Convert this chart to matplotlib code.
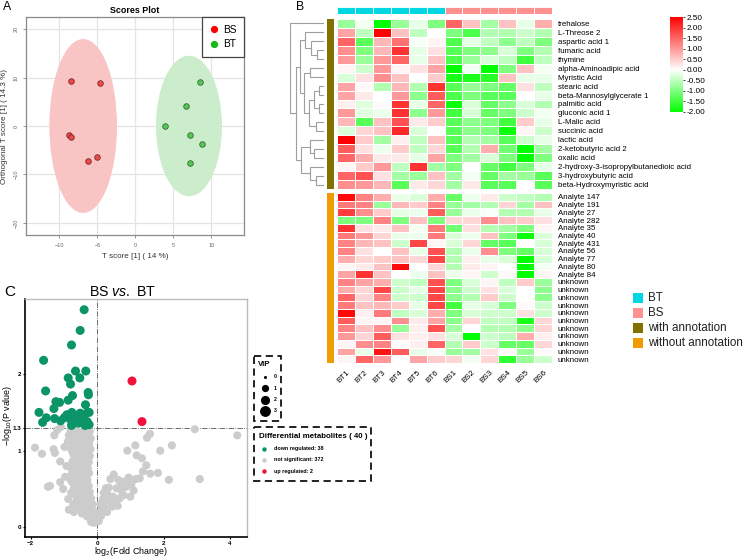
import numpy as np
import matplotlib
matplotlib.use('Agg')
import matplotlib.pyplot as plt
from matplotlib.patches import Ellipse, Rectangle
from matplotlib.colors import LinearSegmentedColormap, Normalize
from matplotlib.cm import ScalarMappable
from matplotlib.lines import Line2D
from matplotlib.ticker import FormatStrFormatter

plt.rcParams['font.family'] = ['Liberation Sans', 'DejaVu Sans']
plt.rcParams['mathtext.fontset'] = 'custom'
plt.rcParams['mathtext.rm'] = 'Liberation Sans'
plt.rcParams['mathtext.it'] = 'Liberation Sans:italic'
plt.rcParams['mathtext.bf'] = 'Liberation Sans:bold'

# ---------------- Panel A data ----------------
bs_x = [-8.46, -4.65, -8.68, -8.46, -5.09, -6.22]
bs_y = [9.25, 8.8, -1.93, -2.2, -6.4, -7.3]
bt_x = [3.86, 6.67, 7.15, 7.15, 8.55, 8.82]
bt_y = [-0.07, 4.14, -1.8, -7.66, 9.1, -3.66]
ell_center = {'BS': (-6.87, 0.0), 'BT': (7.06, 0.0)}
ell_size = {'BS': (8.9, 35.9), 'BT': (8.68, 29.0)}

# ---------------- Panel B data ----------------
samples = ['BT1', 'BT2', 'BT3', 'BT4', 'BT5', 'BT6', 'BS1', 'BS2', 'BS3', 'BS4', 'BS5', 'BS6']
groups = ['BT'] * 6 + ['BS'] * 6
annot_names = ['trehalose', 'L-Threose 2', 'aspartic acid 1', 'fumaric acid', 'thymine',
               'alpha-Aminoadipic acid', 'Myristic Acid', 'stearic acid',
               'beta-Mannosylglycerate 1', 'palmitic acid', 'gluconic acid 1', 'L-Malic acid',
               'succinic acid', 'lactic acid', '2-ketobutyric acid 2', 'oxalic acid',
               '2-hydroxy-3-isopropylbutanedioic acid', '3-hydroxybutyric acid',
               'beta-Hydroxymyristic acid']
unannot_names = ['Analyte 147', 'Analyte 191', 'Analyte 27', 'Analyte 282', 'Analyte 35',
                 'Analyte 40', 'Analyte 431', 'Analyte 56', 'Analyte 77', 'Analyte 80',
                 'Analyte 84'] + ['unknown'] * 11
annot_vals = [
    [-0.8, -0.1, -2.0, -0.8, -0.2, -1.0, 1.5, 0.6, -0.7, 0.6, -0.2, 0.8],
    [0.9, -0.5, 2.5, 0.6, -0.5, 0.0, -1.0, -1.4, -0.6, -0.6, -0.4, -0.6],
    [1.5, -1.3, 0.7, 1.4, -0.05, 0.1, -1.4, -0.2, -0.5, -0.9, -0.5, -1.0],
    [1.1, -1.0, 0.7, 2.0, -0.2, 0.3, -1.3, -1.0, -0.9, -0.3, -1.0, -0.6],
    [1.0, -0.8, 1.0, 1.5, -0.2, 0.6, -1.4, -0.8, -0.3, -0.5, -1.5, -0.5],
    [0.1, -0.4, 1.0, 0.1, 0.3, 0.9, -2.0, -0.1, -2.0, -1.0, 0.6, -0.1],
    [-0.3, 0.3, 1.1, 0.6, 0.0, 0.5, -1.8, -1.8, -1.7, 0.6, -0.2, -0.2],
    [0.9, 0.05, -0.6, 0.7, -0.6, 2.0, -1.3, -0.8, -1.0, -1.2, 0.3, -0.5],
    [0.9, 0.2, 0.0, 1.0, -0.9, 1.6, -1.4, -1.0, -1.3, -1.3, 0.0, -0.2],
    [0.15, -0.25, 0.05, 2.0, -0.2, 1.5, -1.9, -0.3, -1.2, -0.9, -0.3, -0.6],
    [1.0, -0.25, -0.15, 2.0, -0.9, 1.0, -1.5, -0.3, -1.2, -1.0, -0.4, -0.1],
    [0.7, -1.3, 0.6, 1.7, 0.2, 0.5, -1.3, -0.9, -1.0, -1.5, 0.5, -0.2],
    [-0.3, 0.4, 0.6, 2.1, -0.3, 0.0, -1.3, -0.9, -1.0, -1.9, 0.1, -0.4],
    [2.5, 0.5, -0.7, 0.15, -0.5, 0.6, -1.3, -0.6, -0.7, -1.3, -0.4, -0.2],
    [1.6, 0.3, -0.15, 0.5, -0.5, 0.4, -1.3, -0.6, 0.8, -1.1, -2.0, -0.7],
    [1.5, 0.8, 0.2, 0.2, -0.2, 0.9, -1.0, -0.7, -0.3, -1.0, -2.0, -1.0],
    [0.1, 0.5, 1.0, -0.5, 2.0, -0.7, -1.0, 0.0, -1.2, -1.5, -1.0, -0.2],
    [1.5, 1.7, 0.3, -0.7, -0.8, 0.6, -0.7, -0.1, -1.2, -0.7, -0.8, -1.3],
    [1.1, 1.0, 0.7, -1.3, 0.2, 0.4, -0.7, 0.2, -1.3, -1.3, 0.0, -1.3],
]
unannot_vals = [
    [2.4, 1.2, 0.8, -0.2, -0.3, 0.8, -1.2, -0.15, 0.2, -0.4, -0.5, -0.6],
    [1.3, 1.2, -0.8, 0.7, 0.5, 1.2, -0.8, -0.7, -0.6, 0.4, -0.7, 0.6],
    [1.9, 1.1, 0.5, -0.2, -0.15, 1.6, -0.8, -0.15, -0.05, -0.6, -0.6, -0.2],
    [-1.0, -1.0, 1.2, -1.0, 0.6, -1.0, 0.4, 0.4, 1.1, 0.6, 0.5, 0.3],
    [2.0, 0.3, 0.2, 0.6, -0.1, 1.3, -1.1, 0.3, -0.6, -0.7, -1.0, 0.1],
    [1.3, 1.0, 0.4, -0.2, -0.15, 1.3, -0.3, -0.15, 0.6, -1.0, -1.9, -0.3],
    [1.2, 0.7, 0.6, -0.4, 1.8, 0.1, -0.3, 0.4, -1.2, -1.3, 0.0, -0.3],
    [1.2, 0.3, 0.0, 0.6, -0.2, 1.7, -0.6, -0.15, 1.1, -1.0, -1.2, -0.3],
    [0.8, 0.4, 0.5, 0.6, 0.4, 1.8, -0.6, 0.15, -0.2, -0.3, -2.0, -0.3],
    [0.1, 0.2, 0.6, 2.4, 0.0, 0.4, -0.6, 0.2, 0.1, 0.0, -2.0, -0.1],
    [0.9, 2.0, 0.6, 0.0, -0.15, 0.6, -0.15, 0.1, -0.4, 0.05, -2.0, 0.1],
    [1.2, 0.9, 0.8, -0.4, -0.5, 1.7, -1.0, -0.3, 0.1, -0.5, 0.5, -0.8],
    [0.8, 0.4, 1.8, -0.4, -0.2, 1.8, -0.9, -0.4, 0.3, -0.3, 0.0, -0.9],
    [1.5, 0.4, 1.2, -0.4, -0.4, 1.8, -0.9, -0.6, 0.5, -0.4, 0.0, -0.9],
    [1.3, 0.6, 0.7, 0.5, -0.2, 1.8, -1.5, -0.2, -0.3, -1.0, 0.05, -0.4],
    [2.4, 0.15, 1.3, -0.5, -0.3, 0.8, -1.0, -0.3, -0.4, -0.4, 0.3, -0.4],
    [1.6, 0.1, 0.1, 1.1, 0.2, 0.9, -0.9, 0.4, -0.5, -0.5, -1.8, 0.4],
    [1.2, 0.6, 1.1, -0.8, 0.15, 1.7, -0.7, 0.0, -0.6, -0.6, -0.9, 0.4],
    [1.0, 0.4, 1.6, 0.3, 0.15, 0.3, -0.3, -2.0, -0.4, -0.5, 0.8, 0.15],
    [0.1, 1.1, 1.2, 0.05, 0.15, 1.5, -0.6, 0.5, -0.4, -1.2, -1.2, 0.4],
    [0.9, -0.2, 2.3, 1.6, -0.2, -0.05, -0.8, -0.7, 0.3, 0.05, -0.8, 0.05],
    [0.1, 1.5, 1.0, 0.0, 0.9, 0.5, 0.4, -0.1, 0.4, -1.6, -0.8, -0.4],
]
# dendrogram of annotated rows: (left child, right child, height); leaves 0..18, clusters 19+
dendro_merges = [
    (3, 4, 0.22),    # 19
    (2, 19, 0.38),   # 20
    (1, 20, 0.55),   # 21
    (5, 6, 0.40),    # 22
    (7, 8, 0.15),    # 23
    (9, 10, 0.15),   # 24
    (23, 24, 0.29),  # 25
    (11, 12, 0.25),  # 26
    (25, 26, 0.43),  # 27
    (22, 27, 0.58),  # 28
    (21, 28, 0.70),  # 29
    (14, 15, 0.28),  # 30
    (13, 30, 0.42),  # 31
    (17, 18, 0.25),  # 32
    (16, 32, 0.42),  # 33
    (31, 33, 0.68),  # 34
    (29, 34, 0.83),  # 35
    (0, 35, 1.00),   # 36
]
cbar_ticks = [-2.0, -1.5, -1.0, -0.5, 0.0, 0.5, 1.0, 1.5, 2.0, 2.5]

# ---------------- Panel C data ----------------
down_pts = [(-0.39, 2.84), (-0.51, 2.57), (-0.77, 2.38), (-1.61, 2.18), (-0.65, 2.04),
            (-0.34, 2.04), (-0.87, 1.95), (-0.52, 1.95), (-0.80, 1.87), (-1.55, 1.78),
            (-0.27, 1.76), (-0.26, 1.73), (-0.74, 1.72), (-0.87, 1.66), (-1.24, 1.64),
            (-1.13, 1.63), (-0.35, 1.60), (-1.30, 1.55), (-1.75, 1.50), (-0.29, 1.50),
            (-0.76, 1.50), (-0.91, 1.47), (-0.51, 1.49), (-0.24, 1.50), (-1.53, 1.43),
            (-0.64, 1.46), (-0.99, 1.43), (-0.40, 1.44), (-1.28, 1.42), (-1.64, 1.37),
            (-0.42, 1.40), (-0.30, 1.38), (-0.79, 1.40), (-1.10, 1.39), (-0.24, 1.34),
            (-0.77, 1.33), (-0.56, 1.36), (-0.36, 1.33)]
up_pts = [(1.05, 1.91), (1.35, 1.38)]
gray_pts = [
    (2.94, 1.28), (4.22, 1.20), (1.59, 1.22), (1.50, 1.17), (1.15, 1.07), (0.91, 1.00),
    (1.19, 0.94), (2.25, 1.07), (1.90, 1.00), (1.48, 0.81), (1.38, 0.73), (1.83, 0.71),
    (1.16, 0.63), (2.16, 0.62), (3.09, 0.63), (0.50, 0.69), (0.40, 0.63), (0.64, 0.62),
    (0.84, 0.60), (0.95, 0.65), (0.26, 0.51), (0.30, 0.44), (0.58, 0.51), (0.73, 0.48),
    (0.88, 0.53), (1.03, 0.56), (0.48, 0.40), (0.68, 0.38), (0.18, 0.37), (0.38, 0.35),
    (0.23, 0.28), (0.08, 0.20), (0.12, 0.15), (0.15, 0.25), (0.30, 0.20), (0.45, 0.27),
    (0.55, 0.33), (0.80, 0.42), (1.10, 0.48), (1.60, 0.70), (1.28, 0.64), (0.05, 0.08),
    (0.10, 0.30), (0.35, 0.52), (1.00, 0.40), (0.20, 0.45), (0.62, 0.28), (1.35, 0.90),
    (0.72, 0.56),
    (-1.87, 1.04), (-1.66, 0.96), (-1.31, 1.02), (-1.27, 0.97), (-1.11, 0.86), (-1.42, 0.54),
    (-1.48, 0.53), (-1.11, 0.59), (-0.87, 0.37), (-0.85, 0.23), (-1.29, 1.20), (-1.09, 1.31),
    (-1.20, 1.27), (-0.98, 1.05), (-0.92, 0.80), (-0.96, 0.66), (-1.02, 0.50), (-0.80, 0.62),
    (-0.80, 1.25), (-0.70, 1.25), (-0.62, 1.26), (-0.55, 1.24), (-0.45, 1.25), (-0.38, 1.26),
    (-0.30, 1.24), (-0.22, 1.25),
    (-0.75, 1.18), (-0.66, 1.17), (-0.58, 1.18), (-0.50, 1.17), (-0.42, 1.18), (-0.34, 1.17),
    (-0.27, 1.18), (-0.19, 1.16),
    (-0.72, 1.10), (-0.63, 1.09), (-0.54, 1.10), (-0.47, 1.11), (-0.39, 1.09), (-0.31, 1.10),
    (-0.24, 1.09),
    (-0.78, 1.02), (-0.68, 1.01), (-0.60, 1.02), (-0.52, 1.03), (-0.44, 1.01), (-0.36, 1.02),
    (-0.28, 1.01), (-0.20, 1.02),
    (-0.70, 0.94), (-0.62, 0.93), (-0.55, 0.95), (-0.46, 0.94), (-0.38, 0.93), (-0.30, 0.95),
    (-0.22, 0.93),
    (-0.74, 0.86), (-0.65, 0.85), (-0.57, 0.87), (-0.49, 0.86), (-0.41, 0.85), (-0.33, 0.86),
    (-0.25, 0.85),
    (-0.80, 0.78), (-0.68, 0.77), (-0.60, 0.78), (-0.52, 0.79), (-0.44, 0.77), (-0.36, 0.78),
    (-0.28, 0.77),
    (-0.76, 0.70), (-0.64, 0.69), (-0.56, 0.71), (-0.48, 0.70), (-0.40, 0.69), (-0.32, 0.70),
    (-0.24, 0.71),
    (-0.70, 0.62), (-0.60, 0.61), (-0.52, 0.63), (-0.45, 0.62), (-0.37, 0.61), (-0.29, 0.62),
    (-0.66, 0.54), (-0.57, 0.53), (-0.49, 0.55), (-0.41, 0.54), (-0.33, 0.53), (-0.25, 0.54),
    (-0.62, 0.46), (-0.53, 0.45), (-0.45, 0.47), (-0.37, 0.46), (-0.30, 0.45), (-0.22, 0.46),
    (-0.58, 0.38), (-0.48, 0.37), (-0.40, 0.39), (-0.33, 0.38), (-0.25, 0.37), (-0.18, 0.38),
    (-0.50, 0.30), (-0.42, 0.29), (-0.34, 0.31), (-0.27, 0.30), (-0.20, 0.29), (-0.13, 0.30),
    (-0.40, 0.22), (-0.32, 0.21), (-0.25, 0.23), (-0.18, 0.22), (-0.11, 0.21),
    (-0.30, 0.14), (-0.22, 0.13), (-0.15, 0.15), (-0.08, 0.14),
    (-0.18, 0.07), (-0.10, 0.06), (-0.04, 0.07),
    (-0.85, 1.20), (-0.88, 1.12), (-0.66, 1.22), (-0.50, 1.21), (-0.34, 1.21), (-0.26, 1.13),
    (-0.58, 1.06), (-0.42, 1.06), (-0.74, 0.98), (-0.50, 0.98), (-0.34, 0.98), (-0.60, 0.90),
    (-0.45, 0.90), (-0.29, 0.89), (-0.70, 0.82), (-0.55, 0.82), (-0.40, 0.81), (-0.72, 0.74),
    (-0.52, 0.74), (-0.36, 0.73), (-0.66, 0.66), (-0.48, 0.66), (-0.33, 0.66), (-0.74, 0.58),
    (-0.55, 0.58), (-0.40, 0.57), (-0.70, 0.50), (-0.50, 0.50), (-0.35, 0.50), (-0.66, 0.42),
    (-0.44, 0.42), (-0.28, 0.42), (-0.62, 0.34), (-0.45, 0.33), (-0.30, 0.34), (-0.56, 0.26),
    (-0.38, 0.26), (-0.24, 0.26), (-0.46, 0.18), (-0.28, 0.18), (-0.14, 0.10), (-0.72, 0.30),
    (-0.78, 0.45), (-0.70, 0.20),
]
vip_levels = [0, 1, 2, 3]
n_down, n_ns, n_up = 38, 372, 2

# ---------------- figure ----------------
W, H = 750, 559
fig = plt.figure(figsize=(7.5, 5.59), dpi=100)


def px_axes(l, t, r, b):
    return fig.add_axes([l / W, 1 - b / H, (r - l) / W, (b - t) / H])


# ===== Panel A =====
axA = px_axes(26, 17, 244, 235)
axA.set_xlim(-14.4, 14.3)
axA.set_ylim(-22.5, 22.5)
axA.set_axisbelow(True)
axA.grid(True, color='#E4E4E4', lw=0.9)
for g, col in (('BS', '#F8C4C4'), ('BT', '#CBEDCB')):
    axA.add_patch(Ellipse(ell_center[g], ell_size[g][0], ell_size[g][1],
                          facecolor=col, edgecolor='none', zorder=1))
axA.scatter(bs_x, bs_y, s=16, c='#EE4848', edgecolors='#7a2a2a', linewidths=0.6, zorder=3)
axA.scatter(bt_x, bt_y, s=16, c='#58C658', edgecolors='#2f6b2f', linewidths=0.6, zorder=3)
axA.set_xticks([-10, -5, 0, 5, 10])
axA.set_yticks([-20, -10, 0, 10, 20])
axA.tick_params(labelsize=4, colors='#666666', length=2, width=0.5)
for lab in axA.get_yticklabels():
    lab.set_rotation(90)
    lab.set_va('center')
for sp in axA.spines.values():
    sp.set_color('#8a8a8a')
    sp.set_linewidth(0.9)
axA.set_xlabel('T score [1] ( 14 %)', fontsize=5.8, color='#333333', labelpad=4)
axA.set_ylabel('Orthogonal T score [1] ( 14.3 %)', fontsize=5.8, color='#333333', labelpad=4)
axA.set_title('Scores Plot', fontsize=6.4, fontweight='bold', pad=3)
hA = [Line2D([], [], ls='none', marker='o', ms=4.2, color='#FF0000', label='BS'),
      Line2D([], [], ls='none', marker='o', ms=4.2, color='#11BB11', label='BT')]
legA = axA.legend(handles=hA, loc='upper right', borderaxespad=0, fancybox=False,
                  edgecolor='#444444', fontsize=7.3, handletextpad=0.35, borderpad=0.75,
                  labelspacing=0.45, handlelength=1.0, framealpha=1)
legA.get_frame().set_linewidth(0.9)

# ===== Panel B =====
cmap = LinearSegmentedColormap.from_list('gwr', [(0, '#00FF00'), (2 / 4.5, '#FFFFFF'), (1, '#FF0000')])
norm = Normalize(-2, 2.5)
ncol = len(samples)


def heat(ax, vals, names):
    arr = np.array(vals)
    ax.pcolormesh(np.arange(ncol + 1), np.arange(arr.shape[0] + 1), arr, cmap=cmap, norm=norm,
                  edgecolors='white', linewidth=0.6)
    ax.set_xlim(0, ncol)
    ax.set_ylim(arr.shape[0], 0)
    ax.set_xticks([])
    ax.yaxis.tick_right()
    ax.set_yticks(np.arange(arr.shape[0]) + 0.5)
    ax.set_yticklabels(names, fontsize=5.7)
    ax.tick_params(axis='y', length=0, pad=4)
    for sp in ax.spines.values():
        sp.set_visible(False)


axHt = px_axes(337, 19, 552, 189)
heat(axHt, annot_vals, annot_names)
axHb = px_axes(337, 193, 552, 363)
heat(axHb, unannot_vals, unannot_names)
axHb.set_xticks(np.arange(ncol) + 0.5)
axHb.set_xticklabels(samples, fontsize=5.8, rotation=45, ha='right', va='top',
                     rotation_mode='anchor')
axHb.tick_params(axis='x', length=0, pad=4)

# column annotation
grp_color = {'BT': '#00D6E4', 'BS': '#FF9090'}
axCa = px_axes(337, 7, 552, 14)
axCa.bar(np.arange(ncol) + 0.5, 1, width=1, color=[grp_color[g] for g in groups],
         edgecolor='white', linewidth=0.6)
axCa.set_xlim(0, ncol)
axCa.set_ylim(0, 1)
axCa.axis('off')

# row annotation
for (t, b, col) in ((19, 189, '#7F7200'), (193, 363, '#F29B00')):
    ar = px_axes(327, t, 334, b)
    ar.set_facecolor(col)
    ar.set_xticks([])
    ar.set_yticks([])
    for sp in ar.spines.values():
        sp.set_visible(False)

# dendrogram
axD = px_axes(290, 19, 324, 189)
n_leaf = len(annot_names)
pos = {i: (i + 0.5, 0.0) for i in range(n_leaf)}
for k, (a, b, h) in enumerate(dendro_merges):
    ya, ha_ = pos[a]
    yb, hb = pos[b]
    axD.plot([ha_, h, h, hb], [ya, ya, yb, yb], color='#9E9E9E', lw=0.8,
             solid_joinstyle='miter')
    pos[n_leaf + k] = ((ya + yb) / 2, h)
axD.set_ylim(n_leaf, 0)
axD.set_xlim(1.0, 0)
axD.axis('off')

# colorbar
cax = px_axes(670, 17, 683, 112)
cb = fig.colorbar(ScalarMappable(norm=norm, cmap=cmap), cax=cax, ticks=cbar_ticks)
cb.outline.set_visible(False)
cb.ax.yaxis.set_major_formatter(FormatStrFormatter('%.2f'))
cb.ax.tick_params(labelsize=5.9, length=1.5, width=0.5, pad=1)

# ===== Panel C =====
axC = px_axes(25, 299, 247.3, 537.3)
axC.set_xlim(-2.17, 4.52)
axC.set_ylim(-0.13, 2.98)
axC.axhline(1.3, color='#555555', lw=0.6, ls='-.')
axC.axvline(0, color='#555555', lw=0.6, ls='-.')
axC.scatter([p[0] for p in gray_pts], [p[1] for p in gray_pts], s=34, c='#CCCCCC',
            edgecolors='none', zorder=2)
axC.scatter([p[0] for p in down_pts], [p[1] for p in down_pts], s=42, c='#0A9467',
            edgecolors='none', zorder=3)
axC.scatter([p[0] for p in up_pts], [p[1] for p in up_pts], s=42, c='#F0123C',
            edgecolors='none', zorder=3)
axC.set_xticks([-2, 0, 2, 4])
axC.set_yticks([0, 1, 1.3, 2])
axC.set_yticklabels(['0', '1', '1.3', '2'])
axC.tick_params(labelsize=4.5, length=1.5, width=0.8, pad=1)
for lab in axC.get_xticklabels() + axC.get_yticklabels():
    lab.set_fontweight('bold')
for s in ('left', 'bottom'):
    axC.spines[s].set_color('black')
    axC.spines[s].set_linewidth(1.2)
for s in ('top', 'right'):
    axC.spines[s].set_color('#BBBBBB')
    axC.spines[s].set_linewidth(1.0)

# ===== overlay for labels, legends =====
ov = fig.add_axes([0, 0, 1, 1])
ov.set_xlim(0, W)
ov.set_ylim(H, 0)
ov.axis('off')
ov.patch.set_alpha(0)
ov.text(3, 10.5, 'A', fontsize=8.8, va='baseline')
ov.text(296, 10, 'B', fontsize=8.8, va='baseline')
ov.text(4, 296.5, 'C', fontsize=11, va='baseline')
ov.text(122, 296.5, r'BS $\it{vs.}$ BT', fontsize=10.2, ha='center', va='baseline')
ov.text(131, 553.5, r'log$_{2}$(Fold Change)', fontsize=6.4, ha='center', va='baseline')
ov.text(10.2, 415, r'$-$log$_{10}$(P value)', fontsize=6.4, ha='center', va='baseline',
        rotation=90, rotation_mode='anchor')

# legend B
leg_items = [('BT', grp_color['BT']), ('BS', grp_color['BS']),
             ('with annotation', '#7F7200'), ('without annotation', '#F29B00')]
for i, (lab, col) in enumerate(leg_items):
    yc = 298.3 + i * 14.8
    ov.add_patch(Rectangle((633, yc - 5), 10, 10, facecolor=col, edgecolor='none'))
    ov.text(648, yc, lab, fontsize=8.4, va='center', ha='left', color='#222222')

# VIP legend box
ov.add_patch(Rectangle((254, 356), 27, 65, fill=False, ls=(0, (4, 2.5)), lw=1.3, edgecolor='#111111'))
ov.text(258, 366.5, 'VIP', fontsize=5.6, fontweight='bold', va='baseline')
vip_ms = {0: 1.2, 1: 4.2, 2: 5.6, 3: 6.8}
for i, v in enumerate(vip_levels):
    yc = 376.7 + i * 11.4
    ov.plot([264.5], [yc], marker='o', ms=vip_ms[v], color='black', ls='none')
    ov.text(274, yc, str(v), fontsize=3.8, fontweight='bold', va='center')

# Differential metabolites legend box
ov.add_patch(Rectangle((254, 427), 117, 54, fill=False, ls=(0, (4, 2.5)), lw=1.3, edgecolor='#111111'))
ov.text(259, 438.5, 'Differential metabolites ( %d )' % (n_down + n_up), fontsize=5.7,
        fontweight='bold', va='baseline')
diff_items = [('down regulated: %d' % n_down, '#0A9467'),
              ('not significant: %d' % n_ns, '#CCCCCC'),
              ('up regulated: %d' % n_up, '#F0123C')]
for i, (lab, col) in enumerate(diff_items):
    yc = 448.7 + i * 11.3
    ov.plot([264], [yc], marker='o', ms=2.2, color=col, ls='none')
    ov.text(274, yc, lab, fontsize=3.9, fontweight='bold', va='center')

fig.savefig('out.png', dpi=100)
